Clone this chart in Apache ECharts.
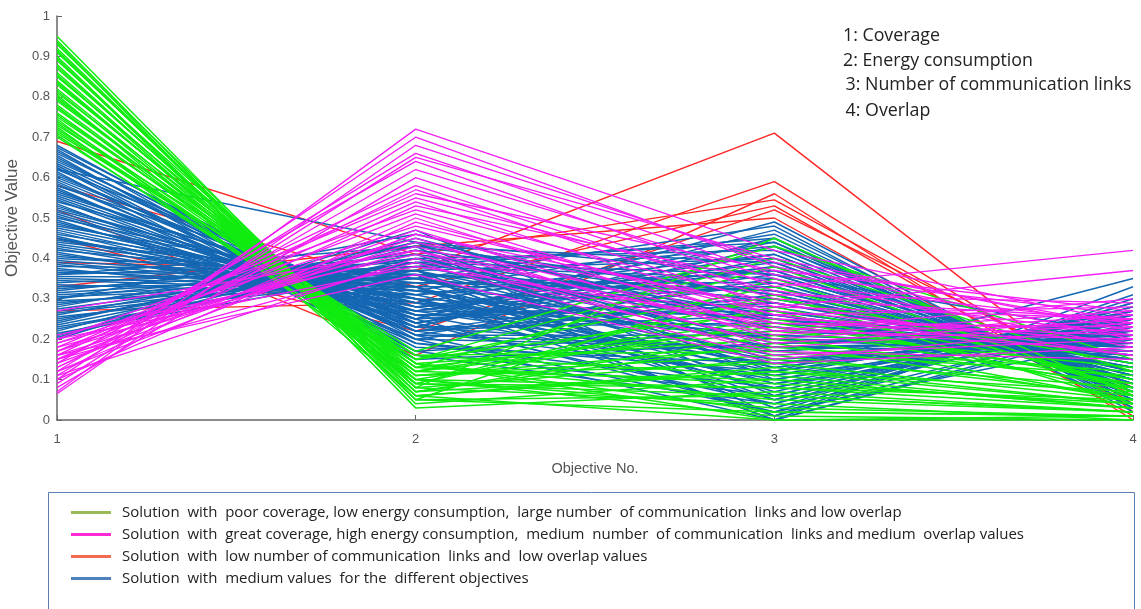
<!DOCTYPE html>
<html>
<head>
<meta charset="utf-8">
<script src="https://cdn.jsdelivr.net/npm/echarts@6/dist/echarts.min.js"></script>
<style>
  html,body{margin:0;padding:0;background:#fff;}
  #chart{width:1141px;height:609px;}
</style>
</head>
<body>
<div id="chart"></div>
<script>
const objectives=['1','2','3','4'];
const yTicks=[0,0.1,0.2,0.3,0.4,0.5,0.6,0.7,0.8,0.9,1];
const notes=['1: Coverage','2: Energy consumption',' 3: Number of communication links',' 4: Overlap'];
const groupNames=[
  'Solution  with  poor coverage, low energy consumption,  large number  of communication  links and low overlap',
  'Solution  with  great coverage, high energy consumption,  medium  number  of communication  links and medium  overlap values',
  'Solution  with  low number of communication  links and  low overlap values',
  'Solution  with  medium values  for the  different objectives'
];

// each row: objective 1..4 values of one solution
const greenLines=[
  [0.95,0.05,0.02,0.01],[0.94,0.04,0.10,0.03],[0.93,0.07,0.21,0.05],[0.92,0.06,0.00,0.00],
  [0.91,0.08,0.15,0.08],[0.90,0.05,0.06,0.02],[0.89,0.09,0.28,0.10],[0.88,0.07,0.12,0.04],
  [0.87,0.10,0.03,0.01],[0.86,0.08,0.45,0.06],[0.85,0.11,0.18,0.12],[0.84,0.09,0.08,0.03],
  [0.83,0.12,0.25,0.09],[0.82,0.10,0.01,0.00],[0.81,0.13,0.38,0.07],[0.80,0.11,0.14,0.05],
  [0.79,0.14,0.05,0.02],[0.78,0.12,0.22,0.13],[0.77,0.15,0.33,0.08],[0.76,0.13,0.09,0.04],
  [0.75,0.16,0.17,0.11],[0.74,0.14,0.00,0.01],[0.73,0.17,0.43,0.15],[0.72,0.15,0.27,0.06],
  [0.71,0.16,0.11,0.03],[0.70,0.14,0.20,0.09],[0.935,0.03,0.07,0.02],[0.915,0.06,0.13,0.04],
  [0.895,0.05,0.35,0.07],[0.875,0.08,0.04,0.00],[0.855,0.07,0.19,0.05],[0.835,0.10,0.24,0.10],
  [0.815,0.09,0.06,0.02],[0.795,0.12,0.30,0.14],[0.775,0.11,0.16,0.06],[0.755,0.14,0.02,0.01],
  [0.735,0.13,0.23,0.08],[0.715,0.15,0.40,0.12],[0.705,0.12,0.10,0.03],[0.725,0.10,0.08,0.05],
  [0.745,0.09,0.31,0.04],[0.805,0.06,0.12,0.07]
];
const magentaLines=[
  [0.07,0.72,0.42,0.24],[0.10,0.70,0.38,0.20],[0.12,0.66,0.36,0.26],[0.09,0.65,0.40,0.22],
  [0.14,0.64,0.33,0.42],[0.11,0.62,0.35,0.18],[0.16,0.58,0.30,0.25],[0.13,0.57,0.28,0.37],
  [0.18,0.55,0.32,0.21],[0.15,0.54,0.26,0.28],[0.20,0.52,0.29,0.16],[0.17,0.51,0.24,0.23],
  [0.12,0.50,0.22,0.30],[0.19,0.48,0.27,0.19],[0.15,0.47,0.20,0.26],[0.14,0.46,0.25,0.22],
  [0.17,0.45,0.18,0.24],[0.16,0.44,0.23,0.17],[0.19,0.43,0.21,0.27],[0.18,0.42,0.16,0.20],
  [0.21,0.41,0.19,0.25],[0.11,0.40,0.17,0.15],[0.15,0.39,0.15,0.23],[0.20,0.38,0.24,0.21],
  [0.16,0.36,0.14,0.18],[0.08,0.60,0.31,0.29],[0.13,0.53,0.34,0.24],[0.10,0.49,0.26,0.16],
  [0.17,0.56,0.37,0.27],[0.065,0.68,0.39,0.23],[0.27,0.42,0.22,0.20],[0.12,0.46,0.28,0.25]
];
const redLines=[
  [0.39,0.37,0.71,0.02],[0.27,0.29,0.59,0.04],[0.52,0.16,0.56,0.00],[0.69,0.41,0.545,0.06],
  [0.45,0.22,0.52,0.08],[0.33,0.43,0.50,0.01],[0.58,0.33,0.53,0.03]
];
const blueLines=[
  [0.68,0.20,0.31,0.12],[0.67,0.17,0.22,0.18],[0.66,0.23,0.45,0.05],[0.65,0.19,0.08,0.25],
  [0.64,0.24,0.38,0.09],[0.63,0.18,0.14,0.22],[0.62,0.26,0.27,0.15],[0.61,0.21,0.02,0.30],
  [0.60,0.25,0.49,0.03],[0.59,0.20,0.18,0.20],[0.58,0.28,0.33,0.11],[0.57,0.22,0.11,0.27],
  [0.56,0.27,0.41,0.07],[0.55,0.23,0.24,0.17],[0.54,0.30,0.05,0.28],[0.53,0.24,0.36,0.10],
  [0.52,0.29,0.20,0.19],[0.51,0.25,0.47,0.04],[0.50,0.31,0.13,0.24],[0.49,0.26,0.29,0.14],
  [0.48,0.33,0.00,0.33],[0.47,0.28,0.39,0.08],[0.46,0.32,0.16,0.21],[0.45,0.27,0.26,0.16],
  [0.44,0.35,0.43,0.06],[0.43,0.30,0.09,0.26],[0.42,0.34,0.32,0.12],[0.41,0.29,0.21,0.18],
  [0.40,0.36,0.03,0.29],[0.39,0.31,0.37,0.09],[0.38,0.37,0.15,0.23],[0.37,0.32,0.28,0.13],
  [0.36,0.39,0.44,0.05],[0.35,0.33,0.07,0.27],[0.34,0.38,0.23,0.17],[0.33,0.34,0.34,0.11],
  [0.32,0.41,0.12,0.24],[0.31,0.35,0.48,0.02],[0.30,0.40,0.19,0.20],[0.29,0.36,0.30,0.14],
  [0.28,0.43,0.01,0.31],[0.27,0.37,0.40,0.08],[0.26,0.42,0.17,0.22],[0.25,0.39,0.25,0.15],
  [0.24,0.44,0.06,0.28],[0.23,0.38,0.35,0.10],[0.22,0.45,0.22,0.19],[0.21,0.40,0.42,0.06],
  [0.20,0.47,0.10,0.25],[0.675,0.22,0.26,0.16],[0.655,0.16,0.04,0.29],[0.635,0.21,0.35,0.10],
  [0.615,0.15,0.19,0.21],[0.595,0.23,0.43,0.07],[0.575,0.19,0.12,0.26],[0.555,0.25,0.30,0.13],
  [0.535,0.20,0.00,0.24],[0.515,0.27,0.38,0.09],[0.495,0.23,0.17,0.22],[0.475,0.30,0.25,0.16],
  [0.455,0.25,0.02,0.20],[0.435,0.32,0.46,0.04],[0.415,0.27,0.14,0.25],[0.395,0.33,0.33,0.12],
  [0.375,0.29,0.08,0.28],[0.355,0.35,0.27,0.15],[0.335,0.31,0.41,0.07],[0.315,0.37,0.20,0.19],
  [0.295,0.33,0.00,0.23],[0.275,0.39,0.36,0.10],[0.255,0.35,0.13,0.24],[0.235,0.41,0.29,0.14],
  [0.215,0.37,0.05,0.27],[0.205,0.43,0.39,0.08],[0.45,0.30,0.12,0.35],[0.36,0.43,0.31,0.12],
  [0.30,0.46,0.25,0.18],[0.62,0.44,0.36,0.21],
  [0.665,0.21,0.18,0.19],[0.645,0.22,0.29,0.13],[0.625,0.17,0.06,0.27],[0.605,0.24,0.40,0.06],
  [0.585,0.21,0.21,0.18],[0.565,0.26,0.10,0.23],[0.545,0.22,0.34,0.09],[0.525,0.28,0.15,0.20],
  [0.505,0.24,0.04,0.26],[0.485,0.29,0.44,0.05],[0.465,0.26,0.23,0.15],[0.445,0.33,0.11,0.22],
  [0.425,0.28,0.37,0.08],[0.405,0.35,0.18,0.17],[0.385,0.30,0.01,0.25],[0.365,0.36,0.32,0.11],
  [0.345,0.32,0.20,0.16],[0.325,0.38,0.45,0.03],[0.305,0.34,0.09,0.21],[0.285,0.40,0.26,0.13],
  [0.265,0.36,0.03,0.24],[0.245,0.42,0.31,0.10],[0.225,0.39,0.14,0.19],[0.21,0.44,0.24,0.16]
];

const lineColors=['#10ec10','#f41ef4','#ff2626','#1467b3'];
const legendColors=['#9bbb59','#ff2bd5','#f26a4f','#4f81bd'];

const chart=echarts.init(document.getElementById('chart'));

function makeLines(rows,color,tag,w) {
  return rows.map((r,i)=>({
    name:tag+i,
    type:'line',
    data:r,
    symbol:'none',
    silent:true,
    lineStyle:{color:color,width:w},
    emphasis:{disabled:true}
  }));
}

// draw order: red under blue, green and magenta on top
let series=[]
  .concat(makeLines(redLines,lineColors[2],'r',1.4))
  .concat(makeLines(blueLines,lineColors[3],'b',1.5))
  .concat(makeLines(greenLines,lineColors[0],'g',1.5))
  .concat(makeLines(magentaLines,lineColors[1],'m',1.3));

// empty series only for the legend box
groupNames.forEach((n,i)=>{
  series.push({name:n,type:'line',data:[],symbol:'none',itemStyle:{color:legendColors[i]},lineStyle:{color:legendColors[i],width:2}});
});

chart.setOption({
  animation:false,
  backgroundColor:'#fff',
  grid:{left:57,right:8,top:16,bottom:189,outerBoundsMode:'none'},
  xAxis:{
    type:'category',
    data:objectives,
    boundaryGap:false,
    name:'Objective No.',
    nameLocation:'middle',
    nameGap:41,
    nameTextStyle:{color:'#555',fontSize:14.5,fontFamily:'Liberation Sans'},
    axisLine:{lineStyle:{color:'#666',width:1.5}},
    axisTick:{inside:true,length:5,lineStyle:{color:'#666'}},
    axisLabel:{color:'#555',fontSize:13,margin:13,fontFamily:'Liberation Sans'},
    splitLine:{show:false}
  },
  yAxis:{
    type:'value',
    min:yTicks[0],
    max:yTicks[yTicks.length-1],
    interval:0.1,
    name:'Objective Value',
    nameLocation:'middle',
    nameGap:31,
    nameTextStyle:{color:'#555',fontSize:17,fontFamily:'Liberation Sans'},
    axisLine:{show:true,lineStyle:{color:'#666',width:1.5}},
    axisTick:{show:true,inside:true,length:5,lineStyle:{color:'#666'}},
    axisLabel:{color:'#555',fontSize:13,margin:7,fontFamily:'Liberation Sans'},
    splitLine:{show:false}
  },
  legend:{
    data:groupNames,
    orient:'vertical',
    left:66,
    top:500,
    itemWidth:40,
    itemHeight:3,
    itemGap:7,
    icon:'rect',
    selectedMode:false,
    textStyle:{fontSize:15,lineHeight:15,color:'#222',fontFamily:'Open Sans',padding:[0,0,0,6]}
  },
  graphic:[
    {type:'rect',left:46,top:490,silent:true,
      shape:{width:1086,height:130},
      style:{fill:'none',stroke:'#5b7fb3',lineWidth:1}}
  ].concat(notes.map((t,i)=>({
    type:'text',x:i<2?843:841,y:[36,61,85,111][i],silent:true,
    style:{text:t,fontSize:17.8,fontFamily:'Open Sans',fill:'#222',verticalAlign:'middle'}
  }))),
  series:series
});
</script>
</body>
</html>
